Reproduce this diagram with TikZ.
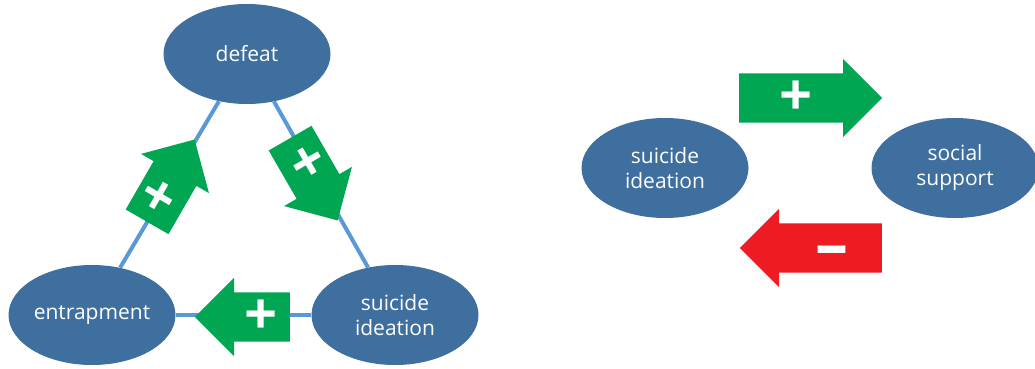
\documentclass[tikz,border=0pt]{standalone}
\usepackage{fontspec}
\setmainfont{Open Sans}
\usetikzlibrary{shapes.geometric,shapes.arrows,calc}
\definecolor{nodeblue}{HTML}{3E6F9E}
\definecolor{linkblue}{HTML}{5B98D6}
\definecolor{plusgreen}{HTML}{00A651}
\definecolor{minusred}{HTML}{ED1C24}
\tikzset{
  bubble/.style={ellipse, fill=nodeblue, text=white, minimum width=167pt,
    minimum height=100pt, inner sep=0pt, align=center,
    font=\fontsize{21}{25}\selectfont},
  link/.style={draw=linkblue, line width=4pt},
  effect/.style={single arrow, single arrow head extend=14.5pt,
    minimum width=78pt, minimum height=95pt, inner xsep=0pt,
    inner ysep=24.5pt, anchor=tail},
  plusarrow/.style={effect, fill=plusgreen},
  minusarrow/.style={effect, fill=minusred},
  sign/.style={inner sep=0pt, text=white,
    font=\fontsize{58}{58}\selectfont\bfseries},
  minussign/.style={sign, yshift=-9pt,
    font=\fontsize{66}{66}\selectfont\bfseries},
}
\begin{document}
\begin{tikzpicture}[x=1pt,y=1pt]
            \useasboundingbox (0,0) rectangle (1035,369);
            \begin{scope}
                \node[bubble] (defeat) at (247,315) {defeat};
                \node[bubble] (entrap) at (92,54) {entrapment};
                \node[bubble] (ideation) at (395,54) {suicide\\ideation};
                \draw[link] (defeat) -- (entrap);
                \draw[link] (defeat) -- (ideation);
                \draw[link] (entrap) -- (ideation);
                \node[plusarrow, rotate=60] (upleft) at (147,147) {};
                \node[plusarrow, rotate=-60] (downright) at (290,231) {};
                \node[plusarrow, shape border rotate=180] (back) at (290,52) {};
                \node[sign, rotate=60] (upleftsign) at ($(upleft.tail)!0.3!(upleft.tip)$) {+};
                \node[sign, rotate=-60] (downrightsign) at ($(downright.tail)!0.3!(downright.tip)$) {+};
                \node[sign] (backsign) at ($(back.tail)!0.3!(back.tip)$) {+};
            \end{scope}
            \begin{scope}[xshift=580pt]
                \node[bubble] (ideation2) at (85,201) {suicide\\ideation};
                \node[bubble] (support) at (375,201) {social\\support};
                \node[plusarrow, minimum height=143pt] (raises) at (159,271) {};
                \node[minusarrow, minimum height=142pt, shape border rotate=180] (lowers) at (302,121) {};
                \node[sign] (raisessign) at ($(raises.tail)!0.4!(raises.tip)$) {+};
                \node[minussign] (lowerssign) at ($(lowers.tail)!0.35!(lowers.tip)$) {–};
            \end{scope}
        \end{tikzpicture}
\end{document}
